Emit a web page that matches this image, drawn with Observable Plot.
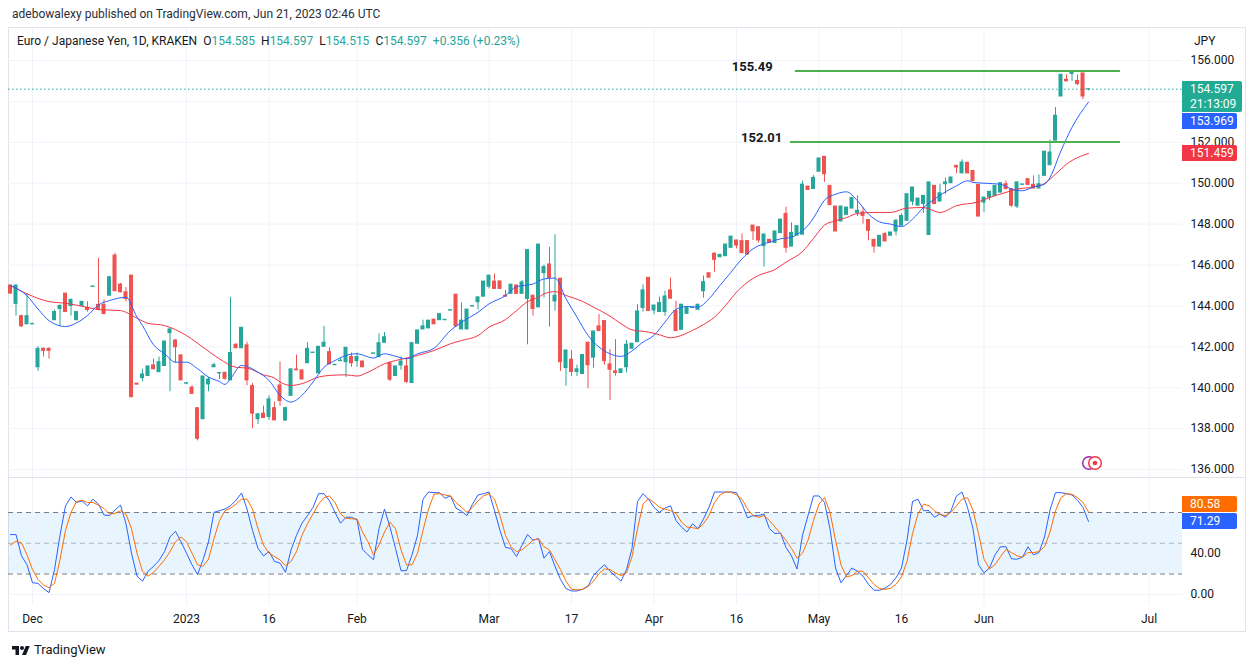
<!DOCTYPE html>
<html>
<head>
<meta charset="utf-8">
<script src="https://cdn.jsdelivr.net/npm/d3@7"></script>
<script src="https://cdn.jsdelivr.net/npm/@observablehq/plot@0.6"></script>
<style>
html,body{margin:0;padding:0;background:#fff;}
#root{position:relative;width:1256px;height:668px;overflow:hidden;font-family:Roboto,"DejaVu Sans",sans-serif;color:#131722;}
.abs{position:absolute;}
#header{left:12px;top:6px;font-size:12px;color:#2a2e39;white-space:nowrap;line-height:16px;}
#frame{left:8px;top:27px;width:1238px;height:605px;border:1px solid #e0e3eb;box-sizing:border-box;}
#sep{left:8px;top:477px;width:1238px;height:1px;background:#e0e3eb;}
#legend{left:17px;top:33px;font-size:12px;white-space:nowrap;line-height:16px;color:#131722;}
#legend .k{margin-left:6px;}
#legend .v{color:#26a69a;}
#jpy{left:1194px;top:33px;font-size:12px;line-height:16px;}
.lab{color:#fff;font-size:12px;line-height:15px;padding-left:8px;box-sizing:border-box;border-radius:0 2px 2px 0;white-space:nowrap;}
#logo{left:12px;top:642px;font-size:13px;line-height:16px;white-space:nowrap;display:flex;align-items:center;gap:4px;color:#131722;}
</style>
</head>
<body>
<div id="root">
  <div id="header" class="abs">adebowalexy published on TradingView.com, Jun 21, 2023 02:46 UTC</div>
  <div id="frame" class="abs"></div>
  <div id="price" class="abs" style="left:0;top:28px"></div>
  <div id="sep" class="abs"></div>
  <div id="stoch" class="abs" style="left:0;top:478px"></div>
  <div id="legend" class="abs">Euro / Japanese Yen, 1D, KRAKEN<span class="k">O</span><span class="v">154.585</span><span class="k">H</span><span class="v">154.597</span><span class="k">L</span><span class="v">154.515</span><span class="k">C</span><span class="v">154.597</span><span class="k v">+0.356 (+0.23%)</span></div>
  <div id="jpy" class="abs">JPY</div>
  <svg class="abs" style="left:1080px;top:455px" width="26" height="16">
    <circle cx="9" cy="8" r="6.3" fill="none" stroke="#9c27b0" stroke-width="1.5"/>
    <circle cx="15" cy="8" r="6.3" fill="#fff" stroke="#f23645" stroke-width="1.5"/>
    <circle cx="15" cy="8" r="2.3" fill="#f23645"/>
  </svg>
  <div id="logo" class="abs">
    <svg width="18" height="12" viewBox="0 0 36 24"><path d="M14 22H7V11H0V4h14z" fill="#131722"/><circle cx="20" cy="8" r="4" fill="#131722"/><path d="M28 22h-8l7.5-18h8z" fill="#131722"/></svg>
    <span>TradingView</span>
  </div>
</div>
<script>
// ---------------- DATA ----------------
const open = [
145.0,144.1,143.5,143.1,143.1,141.0,141.9,141.9,143.3,143.85,
144.6,144.0,143.3,144.0,143.9,144.93,144.05,144.05,144.5,146.46,
145.04,144.67,145.48,140.2,140.47,140.57,141.09,140.76,141.06,142.67,
142.31,141.58,140.2,140.0,139.0,138.46,140.16,141.0,140.7,140.73,
140.36,142.1,141.93,142.07,140.08,138.46,138.73,138.57,139.0,140.11,
138.4,139.6,140.89,140.85,141.2,141.7,140.7,142.0,141.74,141.1,
141.3,141.25,141.5,141.3,141.28,null,141.66,141.5,142.2,141.2,
140.57,141.09,141.04,140.23,142.15,142.85,142.9,143.33,143.3,143.3,
143.77,144.55,142.85,142.85,143.97,144.18,144.45,144.94,145.19,145.2,
144.5,144.59,145.0,144.59,144.34,144.5,143.93,145.6,146.03,144.22,
145.33,140.96,141.37,140.77,140.67,142.2,141.47,143.0,143.26,141.14,
140.8,140.72,141.0,141.9,142.23,143.9,145.37,143.78,143.7,143.7,
144.76,143.75,142.83,143.61,143.9,143.81,144.72,145.6,146.55,146.38,
146.43,146.84,147.2,147.17,147.17,147.93,147.85,146.92,147.23,147.08,
147.56,148.5,146.9,147.44,147.48,149.84,149.72,150.56,151.29,149.87,
148.86,148.13,148.45,148.76,148.55,148.57,148.2,147.23,146.9,147.51,
147.43,147.64,147.92,148.16,149.1,148.9,148.98,147.47,149.87,149.1,
149.95,150.0,150.85,150.48,151.0,150.6,149.92,149.05,149.3,149.38,
149.54,149.95,149.71,148.86,149.92,150.2,149.92,149.74,150.36,150.88,
152.08,154.24,155.06,155.34,155.0,155.37,154.585];
const high = [
145.0,145.0,143.55,144.6,143.15,142.0,141.95,141.95,143.8,144.05,
144.6,144.3,143.7,144.2,144.2,144.95,146.33,144.3,145.45,146.57,
145.1,144.9,145.5,140.2,140.9,141.04,141.4,141.5,142.26,142.9,
142.35,141.6,140.25,140.1,139.0,140.55,140.5,141.2,140.72,140.75,
144.42,142.15,142.93,142.23,140.2,138.75,139.1,139.6,139.3,141.25,
139.05,140.9,141.6,140.85,142.2,141.72,142.0,143.0,141.95,141.12,
141.45,141.95,141.7,141.7,141.3,null,141.68,142.63,142.7,141.2,
141.04,141.5,141.45,142.18,142.8,143.3,143.28,143.33,143.6,143.32,
143.79,144.55,144.15,143.82,143.99,144.42,145.19,145.48,145.56,145.2,
144.75,145.04,145.0,145.24,146.73,144.5,147.0,146.0,146.87,147.48,
145.33,141.82,141.82,141.1,141.6,142.2,142.75,143.58,143.26,141.87,
142.35,140.9,142.31,142.15,144.06,145.03,145.37,144.02,144.43,144.72,
145.36,144.23,144.06,143.9,143.92,144.06,145.46,145.6,146.6,146.5,
147.0,147.39,147.2,147.52,147.17,147.93,147.85,147.49,147.23,147.64,
148.22,148.83,148.06,147.9,150.1,149.84,150.37,151.21,151.29,149.87,
148.86,148.86,148.81,149.27,149.38,148.81,148.2,147.23,147.43,147.6,
147.59,148.24,148.5,149.46,149.79,149.25,149.38,150.04,149.87,149.95,
150.25,150.28,150.85,151.14,151.0,150.6,149.92,149.3,149.58,149.87,
150.0,150.12,149.71,150.04,149.94,150.2,150.36,150.4,151.54,152.1,
153.7,155.3,155.3,155.4,155.3,155.37,154.597];
const low = [
144.6,143.5,142.95,143.1,143.1,140.8,141.5,141.4,143.3,143.0,
143.7,143.5,143.3,144.0,143.7,144.9,143.77,143.6,144.5,144.7,
144.64,144.2,139.5,140.15,140.3,140.57,140.9,140.76,141.06,139.8,
141.2,140.36,140.15,139.7,137.4,138.46,139.8,141.0,140.4,140.36,
140.36,141.93,141.93,140.1,138.0,138.2,138.5,138.4,138.4,139.1,
138.35,139.6,140.85,140.4,141.2,141.7,140.7,142.0,141.14,141.1,
141.28,140.5,141.0,141.0,141.0,null,141.66,141.5,142.2,140.3,
140.57,140.85,140.2,140.23,142.15,142.85,142.9,143.1,143.3,143.3,
143.77,143.0,142.85,142.85,143.97,143.8,144.45,144.83,144.83,144.83,
144.45,144.59,144.59,144.59,142.1,143.5,143.93,144.4,142.96,143.75,
140.8,140.08,140.55,140.55,140.67,139.95,140.96,142.77,141.1,139.38,
140.57,140.72,140.72,141.9,142.23,143.7,143.75,143.57,143.7,143.5,
144.35,142.77,142.83,143.61,143.9,143.81,144.38,145.38,145.65,146.38,
146.43,146.84,146.79,146.58,146.47,147.2,147.08,145.9,147.08,147.08,
147.56,146.58,146.9,147.44,147.48,149.67,149.72,150.56,150.04,148.93,
147.64,148.13,148.45,148.76,148.37,148.0,147.18,146.58,146.9,147.15,
147.43,147.43,147.92,148.16,148.9,148.9,148.53,147.47,148.98,149.1,
149.46,150.0,150.47,150.48,150.48,150.1,148.37,148.57,149.14,149.38,
149.54,149.71,148.82,148.76,149.92,149.92,149.74,149.74,150.36,150.88,
152.08,154.24,154.98,154.98,154.77,154.08,154.515];
const close = [
144.6,145.0,143.0,143.5,143.12,141.9,141.8,141.8,143.7,144.0,
143.7,144.3,143.7,144.2,143.8,144.95,143.8,143.6,145.4,144.72,
144.67,144.34,139.54,140.15,140.65,141.04,140.9,141.25,142.26,142.85,
141.98,140.36,140.22,139.7,137.5,140.55,140.4,141.1,140.72,140.44,
141.7,141.93,142.93,140.36,138.73,138.7,138.52,139.43,138.4,139.35,
139.0,140.9,140.85,140.4,141.9,141.72,142.0,142.2,141.14,141.12,
141.32,141.95,141.2,141.5,141.0,null,141.68,142.18,142.47,140.39,
141.04,141.28,140.28,142.18,142.8,143.0,143.28,143.1,143.6,143.32,
143.79,143.0,143.28,143.82,143.99,144.42,145.19,145.48,144.83,144.83,
144.45,145.04,144.59,145.15,146.73,143.85,147.0,145.9,145.37,144.5,
141.25,141.82,140.77,140.9,141.6,141.1,142.75,142.77,141.3,140.88,
140.72,140.9,142.1,142.15,143.73,144.76,143.75,144.02,144.14,144.46,
144.35,142.77,144.06,143.9,143.92,144.06,145.16,145.38,146.25,146.5,
147.0,147.39,146.95,146.58,146.52,147.65,147.2,147.49,147.08,147.64,
148.22,146.84,147.57,147.9,149.93,149.67,150.26,151.21,150.44,148.93,
147.64,148.86,148.81,149.27,148.65,148.4,147.67,146.9,147.43,147.15,
147.59,148.16,148.4,149.46,149.79,149.25,149.38,150.04,148.98,149.51,
150.04,150.28,150.77,151.01,150.48,150.1,148.37,149.3,149.58,149.87,
150.0,149.71,148.9,150.04,149.94,149.92,149.74,149.95,151.54,151.5,
153.3,155.3,154.98,155.4,154.85,154.24,154.597];

// moving averages, read at sampled bars
const fastMABar = [0,3,5,7,10,12,14,16,18,21,23,24,26,28,30,32,34,36,38,39,40,42,45,47,49,51,53,55,57,59,61,63,66,68,70,72,74,77,80,82,85,87,90,92,95,97,99,101,103,105,107,109,111,113,115,117,119,121,123,125,127,129,131,133,135,138,140,142,144,145,146,148,150,152,154,156,158,160,162,164,166,168,170,172,174,175,177,180,182,184,186,188,189,191,193,196];
const fastMA = [145.0,144.5,143.85,143.28,142.99,143.17,143.53,144.05,144.26,144.42,143.45,143.04,142.1,141.66,141.25,141.25,140.93,140.52,140.3,140.16,140.44,141.09,140.76,140.36,139.63,139.3,139.63,140.28,141.0,141.33,141.58,141.66,141.45,141.66,141.54,141.41,141.66,141.93,142.8,143.2,143.69,144.1,144.5,144.94,145.07,145.32,145.36,144.35,143.45,142.56,141.99,141.66,141.53,141.8,142.23,142.56,143.21,143.83,143.97,143.94,144.35,145.0,145.65,146.3,146.79,147.12,147.28,147.36,147.69,147.93,148.3,149.17,149.46,149.58,149.14,148.49,148.11,148.0,147.88,148.24,148.81,149.22,149.58,149.87,150.12,150.04,150.0,149.95,149.71,149.63,149.82,149.95,150.28,151.59,152.73,153.969];
const slowMABar = [0,3,7,10,14,16,20,23,25,28,32,35,38,41,43,46,48,49,51,53,56,58,61,63,65,68,70,72,74,77,80,82,85,87,90,92,94,96,97,99,101,104,106,109,111,113,116,118,120,121,124,126,128,130,132,134,136,139,141,144,146,148,150,152,154,157,160,163,166,169,172,176,178,181,183,186,188,190,192,196];
const slowMA = [144.99,144.59,144.21,144.13,143.93,143.82,143.77,143.4,143.15,143.04,142.55,141.98,141.41,141.0,140.96,140.63,140.47,140.28,140.11,140.2,140.52,140.6,140.63,140.57,140.76,141.17,141.33,141.45,141.58,141.82,142.15,142.31,142.55,142.96,143.33,143.77,144.21,144.42,144.59,144.7,144.51,144.22,143.94,143.5,143.13,142.83,142.72,142.59,142.44,142.48,142.8,143.09,143.45,144.02,144.67,145.16,145.49,145.78,146.14,146.66,147.3,147.95,148.16,148.32,148.52,148.57,148.57,148.78,148.81,148.57,148.9,149.09,149.3,149.55,149.71,149.82,149.99,150.44,150.93,151.459];

// stochastic %K (blue) and %D (orange), one value per bar
const stochK = [
58.5,58.5,37.7,29,11.5,10.9,5.8,1.9,24.3,57.8,
86.6,95.2,89.8,91.4,86.6,93,88.2,77.6,77,82.4,
87.2,69,40.3,17.9,13.1,22.7,27.5,33.2,41.9,56.2,
61.7,51.4,40.3,29,19.5,33.9,51.4,80.2,81.8,83.4,
86.6,92,99,83.4,62.6,45,37.7,41.9,32.3,30.7,
21.7,43.5,57.8,69.6,77,85,98.4,98.4,91.4,80.2,
69.6,75.4,75.4,72.8,44.1,38.7,33.9,64.2,83.4,65.8,
45,23.3,23.3,38.7,57.8,93,100,99.4,99.4,93.9,
96.2,84.3,81.2,77,88.2,97.1,98.4,100,81.8,62.6,
46,45,37,48.2,58.5,53,54.6,35.5,41.9,27.5,
14.7,5.8,3.5,3.5,5.1,8.3,18.5,24.3,29,22.7,
17.9,13.1,24.3,45,90.7,98.4,93,85,80.2,84.3,
86.6,72.2,65.8,61,69,64.2,73.8,85,100,100,
100,100,99.4,88.2,74.8,77,77,78.6,64.2,59.4,
60.1,46,37.7,24.9,57.8,77,96.2,96.2,89.8,64.2,
25.9,11.5,18.5,25.9,22.7,17.9,9.9,4.2,4.2,6.1,
9.9,16.3,25.9,53,90.7,93,81.8,81.8,75.4,78.6,
75.4,81.8,96.2,100,85,64.2,29,21.1,25.9,38.7,
46.6,46.6,34.8,34.5,36.4,46.6,38.7,40.9,56.2,82.4,
99.4,99.4,98.4,97.1,92,85,71.29];
const stochD = [
48.2,52,50.5,38.7,24.3,14.7,9.3,6.7,10.9,33.9,
62.6,80.2,90.7,92,89.8,89.8,87.2,84,78.6,79.2,
81.8,78.6,64.2,40.3,22.7,17.9,21.7,27.5,33.9,41.9,
51.4,56.2,51.4,40.3,29,27.5,34.5,54.6,72.2,81.8,
84.3,88.2,93,93,83.4,64.2,48.2,40.3,37,33.9,
28.1,32.3,41.9,57.8,69,78.6,88.2,94.6,96.2,89.8,
78.6,74.4,73.8,73.8,61,51.4,38.7,48.2,61,70.6,
64.2,43.5,29,29,40.3,62.6,83.4,97.8,98.4,97.1,
96.2,89.8,85,80.2,85,91.4,96.2,98.4,93,77,
57.8,46.6,41.9,43.5,48.2,53,54.6,46.6,43.5,33.9,
24.3,13.1,5.1,4.5,5.1,7.7,13.1,20.4,24.9,24.3,
21.1,18.5,21.1,37,64.2,88.2,93.6,89.8,85,83.4,
81.8,79.2,70.6,65.8,65.2,64.2,69,77,89.8,97.1,
100,100,97.1,93,83.4,77,75.4,77,72.2,65.8,
59.4,53,45,35.5,40.3,53,72.2,88.2,94.6,80.2,
53,29,17.3,18.5,22.7,22.7,16.3,9.9,5.8,5.1,
6.1,9.9,17.3,32.3,59.4,78.6,88.2,86.6,81.8,78,
77,80.2,86.6,93,94.6,82.4,59.4,34.5,24.9,29,
37,44.1,40.9,37.7,36.4,40.9,40.9,41.9,46.6,61,
81.8,94.6,98.4,97.8,94.6,89.8,80.58];
const stochLevels = [20, 50, 80];
const stochTicks = [0, 40];

// time axis (bar index of each labelled date) and price ticks
const dateTickBar = [4, 32, 47, 63, 87, 102, 117, 132, 147, 162, 177, 207];
const dateTickLabel = ["Dec", "2023", "16", "Feb", "Mar", "17", "Apr", "16", "May", "16", "Jun", "Jul"];
const priceTicks = [136, 138, 140, 142, 144, 146, 148, 150, 152, 154, 156];
const hiddenPriceLabels = [154]; // covered by the last-price label in the reference

// horizontal levels drawn by the author
const levelPrice = [155.49, 152.01];
const levelFromBar = [142.7, 141.8];
const levelToBar = [201.8, 201.8];
const levelLabelBar = [138.6, 140.3];

// ---------------- CHART ----------------
const teal = "#26a69a", red = "#ef5350";
const xDomain = [-0.364, 213.09];
const candles = open.map((o, i) => o == null ? null : {i, o, h: high[i], l: low[i], c: close[i]}).filter(Boolean);
const isUp = d => d.c >= d.o;
const fast = fastMABar.map((b, i) => ({b, v: fastMA[i]}));
const slow = slowMABar.map((b, i) => ({b, v: slowMA[i]}));
const levels = levelPrice.map((p, i) => ({p, from: levelFromBar[i], to: levelToBar[i], lab: levelLabelBar[i]}));
const last = candles[candles.length - 1];
const baseStyle = {background: "transparent", fontFamily: "Roboto, sans-serif", fontSize: "12px", color: "#131722", overflow: "visible"};

const price = Plot.plot({
  width: 1256, height: 449,
  marginLeft: 8, marginRight: 74, marginTop: 0, marginBottom: 0,
  style: baseStyle,
  x: {domain: xDomain, axis: null},
  y: {domain: [135.61, 157.565], axis: null},
  marks: [
    Plot.ruleX(dateTickBar, {stroke: "#f0f3fa"}),
    Plot.ruleY(priceTicks, {stroke: "#f0f3fa"}),
    Plot.axisY(priceTicks.filter(t => !hiddenPriceLabels.includes(t)), {anchor: "right", tickSize: 0, tickPadding: 8, tickFormat: d => d.toFixed(3), label: null}),
    Plot.ruleY([last.c], {stroke: teal, strokeDasharray: "1.5,2.5"}),
    Plot.ruleX(candles, {x: "i", y1: "l", y2: "h", stroke: d => isUp(d) ? teal : red, clip: true}),
    Plot.rect(candles, {
      x1: d => d.i - 0.5, x2: d => d.i + 0.5,
      y1: d => Math.min(d.o, d.c), y2: d => Math.max(d.o, d.c),
      fill: d => isUp(d) ? teal : red,
      insetLeft: 0.75, insetRight: 0.75, insetTop: -0.5, insetBottom: -0.5, clip: true
    }),
    Plot.line(slow, {x: "b", y: "v", stroke: "#f23645", strokeWidth: 1, curve: "monotone-x", clip: true}),
    Plot.line(fast, {x: "b", y: "v", stroke: "#2962ff", strokeWidth: 1, curve: "monotone-x", clip: true}),
    Plot.ruleY(levels, {y: "p", x1: "from", x2: "to", stroke: "#4caf50", strokeWidth: 2}),
    Plot.text(levels, {x: "lab", y: "p", text: d => d.p.toFixed(2), textAnchor: "end", dy: -4, fontWeight: "bold", fontSize: 13, fill: "#131722"})
  ]
});
document.getElementById("price").append(price);

const stoch = Plot.plot({
  width: 1256, height: 154,
  marginLeft: 8, marginRight: 74, marginTop: 0, marginBottom: 27,
  style: baseStyle,
  x: {domain: xDomain, axis: null},
  y: {domain: [-10.7, 113.2], axis: null},
  marks: [
    Plot.rect([stochLevels], {x1: () => xDomain[0], x2: () => xDomain[1], y1: d => d[0], y2: d => d[2], fill: "#2196f3", fillOpacity: 0.1}),
    Plot.ruleX(dateTickBar, {stroke: "#f0f3fa"}),
    Plot.ruleY(stochTicks, {stroke: "#f0f3fa"}),
    Plot.ruleY([stochLevels[0], stochLevels[2]], {stroke: "#787b86", strokeDasharray: "5,4"}),
    Plot.ruleY([stochLevels[1]], {stroke: "#787b86", strokeOpacity: 0.5, strokeDasharray: "5,4"}),
    Plot.axisY(stochTicks, {anchor: "right", tickSize: 0, tickPadding: 8, tickFormat: d => d.toFixed(2), label: null}),
    Plot.axisX(dateTickBar, {anchor: "bottom", tickSize: 0, tickPadding: 9, tickFormat: d => dateTickLabel[dateTickBar.indexOf(d)], label: null}),
    Plot.line(stochK, {x: (d, i) => i, y: d => d, stroke: "#2962ff", strokeWidth: 1, clip: true}),
    Plot.line(stochD, {x: (d, i) => i, y: d => d, stroke: "#ff6d00", strokeWidth: 1, clip: true})
  ]
});
document.getElementById("stoch").append(stoch);

// axis value labels positioned through the charts' own y scales
const root = document.getElementById("root");
function label(top, width, height, bg, html) {
  const d = document.createElement("div");
  d.className = "abs lab";
  d.style.cssText = `left:1182px;top:${top}px;width:${width}px;height:${height}px;background:${bg};padding-top:${height > 20 ? 1 : 0.5}px`;
  d.innerHTML = html;
  root.append(d);
}
const py = v => 28 + price.scale("y").apply(v);
const sy = v => 478 + stoch.scale("y").apply(v);
const tealTop = Math.round(py(last.c) - 8);
label(tealTop, 60, 31, "#22ab94", last.c.toFixed(3) + "<br>21:13:09");
const fastLast = fastMA[fastMA.length - 1];
label(Math.max(Math.round(py(fastLast) - 8), tealTop + 32), 55, 16, "#2962ff", fastLast.toFixed(3));
const slowLast = slowMA[slowMA.length - 1];
label(Math.round(py(slowLast) - 8), 55, 16, "#f23645", slowLast.toFixed(3));
const kLast = stochK[stochK.length - 1], dLast = stochD[stochD.length - 1];
const kTop = Math.round(sy(kLast) - 8);
label(Math.min(Math.round(sy(dLast) - 8), kTop - 17), 55, 16, "#ff6d00", dLast.toFixed(2));
label(kTop, 55, 16, "#2962ff", kLast.toFixed(2));
</script>
</body>
</html>
